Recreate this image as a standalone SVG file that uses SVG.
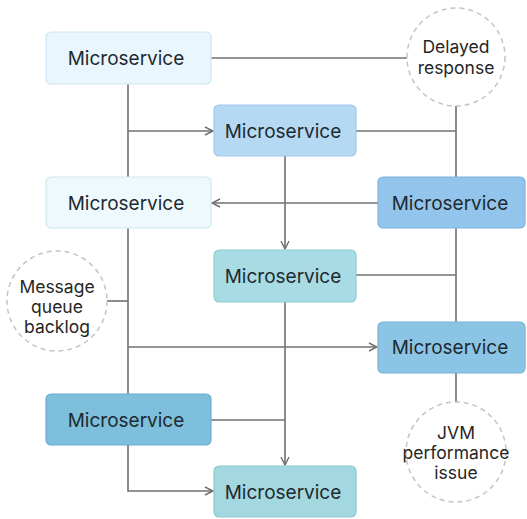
<svg xmlns="http://www.w3.org/2000/svg" width="527" height="519" viewBox="0 0 527 519">
  <defs>
    <marker id="arrow" viewBox="0 0 10 10" refX="9" refY="5" markerWidth="10" markerHeight="10" markerUnits="userSpaceOnUse" orient="auto">
      <path d="M1,1 L9,5 L1,9" fill="none" stroke="#6e6e6e" stroke-width="1.4"/>
    </marker>
  </defs>
  <style>
    .node rect { stroke-width: 1.2; }
    .label { font-family: "Inter", "Liberation Sans", sans-serif; font-size: 19px; fill: #1f2a30; text-anchor: middle; dominant-baseline: central; }
    .note circle { fill: #ffffff; stroke: #c4c4c4; stroke-width: 1.5; stroke-dasharray: 5 4; }
    .note text { font-family: "Inter", "Liberation Sans", sans-serif; font-size: 17.5px; fill: #262626; text-anchor: middle; dominant-baseline: central; }
    .wire { fill: none; stroke: #707070; stroke-width: 1.6; }
  </style>
  <rect width="527" height="519" fill="#ffffff"/>

  <g id="connectors">
    <path class="wire" d="M211,58 H407"/>
    <path class="wire" d="M128,84 V177"/>
    <path class="wire" d="M128,131 H213" marker-end="url(#arrow)"/>
    <path class="wire" d="M456,106 V177"/>
    <path class="wire" d="M356,131 H456"/>
    <path class="wire" d="M378,203 H212" marker-end="url(#arrow)"/>
    <path class="wire" d="M285,156 V249" marker-end="url(#arrow)"/>
    <path class="wire" d="M356,275 H456"/>
    <path class="wire" d="M456,228 V322"/>
    <path class="wire" d="M128,228 V394"/>
    <path class="wire" d="M107,301 H128"/>
    <path class="wire" d="M128,347 H377" marker-end="url(#arrow)"/>
    <path class="wire" d="M285,302 V465" marker-end="url(#arrow)"/>
    <path class="wire" d="M211,420 H285"/>
    <path class="wire" d="M128,445 V491 H213" marker-end="url(#arrow)"/>
    <path class="wire" d="M456,373 V402"/>
  </g>

  <g id="svc-1" class="node">
    <rect x="46" y="32" width="165" height="52" rx="5" fill="#eaf6fd" stroke="#cfe6f3"/>
    <text class="label" x="126" y="58">Microservice</text>
  </g>
  <g id="svc-2" class="node">
    <rect x="214" y="105" width="142" height="51" rx="5" fill="#b5d8f3" stroke="#9fc8ea"/>
    <text class="label" x="283" y="131">Microservice</text>
  </g>
  <g id="svc-3" class="node">
    <rect x="46" y="177" width="165" height="51" rx="5" fill="#eef9fd" stroke="#cfe8f2"/>
    <text class="label" x="126" y="203">Microservice</text>
  </g>
  <g id="svc-4" class="node">
    <rect x="378" y="177" width="147" height="51" rx="5" fill="#93c4eb" stroke="#7fb4df"/>
    <text class="label" x="450" y="203">Microservice</text>
  </g>
  <g id="svc-5" class="node">
    <rect x="214" y="250" width="142" height="52" rx="5" fill="#a8dbe3" stroke="#8fcbd6"/>
    <text class="label" x="283" y="276">Microservice</text>
  </g>
  <g id="svc-6" class="node">
    <rect x="378" y="322" width="147" height="51" rx="5" fill="#8bc4e4" stroke="#76b3d6"/>
    <text class="label" x="450" y="347">Microservice</text>
  </g>
  <g id="svc-7" class="node">
    <rect x="46" y="394" width="165" height="51" rx="5" fill="#7dbfdc" stroke="#68aed0"/>
    <text class="label" x="126" y="420">Microservice</text>
  </g>
  <g id="svc-8" class="node">
    <rect x="214" y="466" width="142" height="51" rx="5" fill="#a3d8e0" stroke="#8bcad4"/>
    <text class="label" x="283" y="492">Microservice</text>
  </g>

  <g id="note-delay" class="note">
    <circle cx="456" cy="57" r="49"/>
    <text x="456" y="46">Delayed</text>
    <text x="456" y="67">response</text>
  </g>
  <g id="note-queue" class="note">
    <circle cx="57" cy="301" r="50"/>
    <text x="57" y="286">Message</text>
    <text x="57" y="306">queue</text>
    <text x="57" y="326">backlog</text>
  </g>
  <g id="note-jvm" class="note">
    <circle cx="456" cy="452" r="50"/>
    <text x="456" y="432">JVM</text>
    <text x="456" y="452">performance</text>
    <text x="456" y="472">issue</text>
  </g>
</svg>
